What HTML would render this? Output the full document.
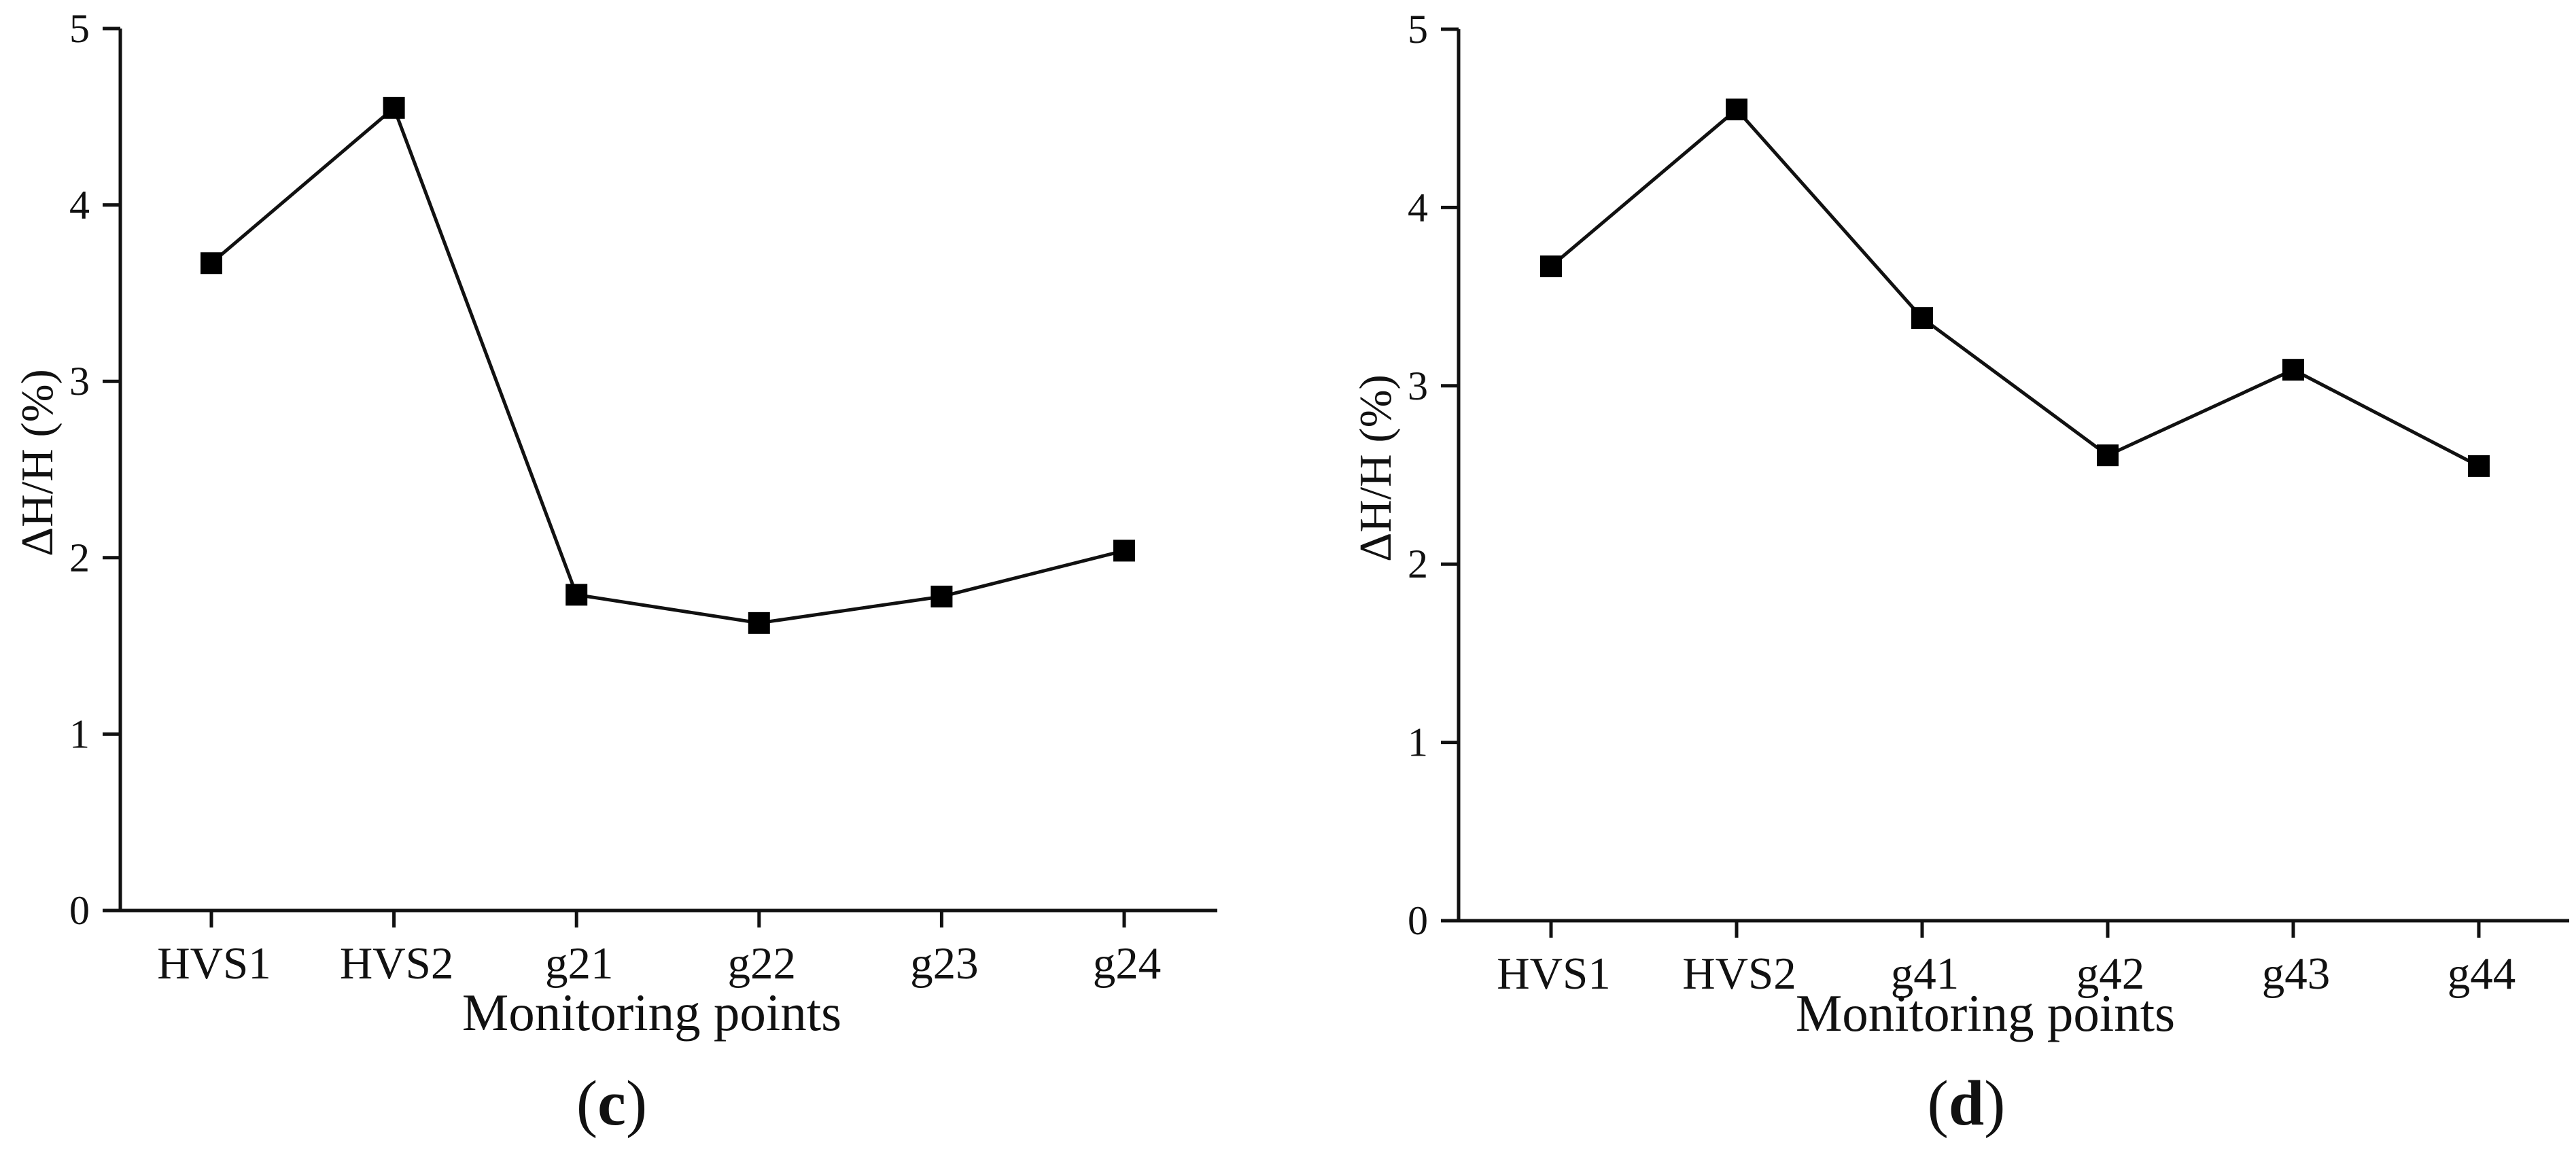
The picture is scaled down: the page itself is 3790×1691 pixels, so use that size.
<!DOCTYPE html>
<html><head><meta charset="utf-8"><style>
html,body{margin:0;padding:0;background:#fff;}
svg{display:block;font-family:"Liberation Serif",serif;}
</style></head><body>
<svg id="fig" width="3790" height="1691" viewBox="0 0 3790 1691" xmlns="http://www.w3.org/2000/svg">
<rect width="3790" height="1691" fill="#fff"/>
</svg>
<script>
const catsC = ["HVS1","HVS2","g21","g22","g23","g24"];
const valsC = [3.67,4.55,1.79,1.63,1.78,2.04];
const catsD = ["HVS1","HVS2","g41","g42","g43","g44"];
const valsD = [3.67,4.55,3.38,2.61,3.09,2.55];
const yTicks = [0,1,2,3,4,5];
const NS="http://www.w3.org/2000/svg";
const svg=document.getElementById('fig');
function mk(tag,attrs,parent){const e=document.createElementNS(NS,tag);for(const k in attrs)e.setAttribute(k,attrs[k]);(parent||svg).appendChild(e);return e;}
function panel(o){
  const g=mk('g',{});
  
  
  const y=v=>o.y0-(v/5)*(o.y0-o.y5);
  const x=i=>o.xFirst+i*o.step;
  const ya=mk('line',{x1:o.ax,y1:o.y5,x2:o.ax,y2:o.y0,stroke:'#111','stroke-width':5},g);
  
  
  const xa=mk('line',{x1:o.ax-26,y1:o.y0,x2:o.xEnd,y2:o.y0,stroke:'#111','stroke-width':5},g);
  
  
  yTicks.forEach(t=>{
    const tk=mk('line',{x1:o.ax-26,y1:y(t),x2:o.ax,y2:y(t),stroke:'#111','stroke-width':5},g);
    
    
    const tl=mk('text',{x:o.ax-45,y:y(t)+20,'font-size':60,'text-anchor':'end',fill:'#111'},g);
    tl.textContent=t;
    
    
  });
  o.cats.forEach((c,i)=>{
    const tk=mk('line',{x1:x(i),y1:o.y0,x2:x(i),y2:o.y0+25,stroke:'#111','stroke-width':5},g);
    
    
    const tl=mk('text',{x:x(i)+4,y:o.y0+100,'font-size':67,'text-anchor':'middle',fill:'#111'},g);
    tl.textContent=c;
    
    
  });
  const pts=o.vals.map((v,i)=>x(i)+','+y(v)).join(' ');
  const pl=mk('polyline',{points:pts,fill:'none',stroke:'#111','stroke-width':5},g);
  
  
  o.vals.forEach((v,i)=>{
    const r=mk('rect',{x:x(i)-16,y:y(v)-16,width:32,height:32,fill:'#000'},g);
    
    
  });
  const yl=mk('text',{x:0,y:0,'font-size':67,'text-anchor':'middle',fill:'#111',transform:`translate(${o.ax-100},${(o.y0+o.y5)/2-10}) rotate(-90)`},g);
  yl.textContent='ΔH/H (%)';
  
  
  const xl=mk('text',{x:o.xtX,y:o.xtY,'font-size':77,'text-anchor':'middle',fill:'#111'},g);
  xl.textContent='Monitoring points';
  
  
  const cap=mk('text',{x:o.capX,y:o.capY,'font-size':94,'text-anchor':'middle',fill:'#111'},g);
  cap.innerHTML='(<tspan font-weight="bold">'+o.letter+'</tspan>)';
  
  
}
panel({name:'chart-c',cats:catsC,vals:valsC,ax:177,y0:1340,y5:42,xFirst:311,step:268.6,xEnd:1791,xtX:959,xtY:1516,capX:900,capY:1655,letter:'c'});
panel({name:'chart-d',cats:catsD,vals:valsD,ax:2146,y0:1355,y5:43,xFirst:2282,step:273,xEnd:3780,xtX:2921,xtY:1517,capX:2893,capY:1655,letter:'d'});
</script>
</body></html>
